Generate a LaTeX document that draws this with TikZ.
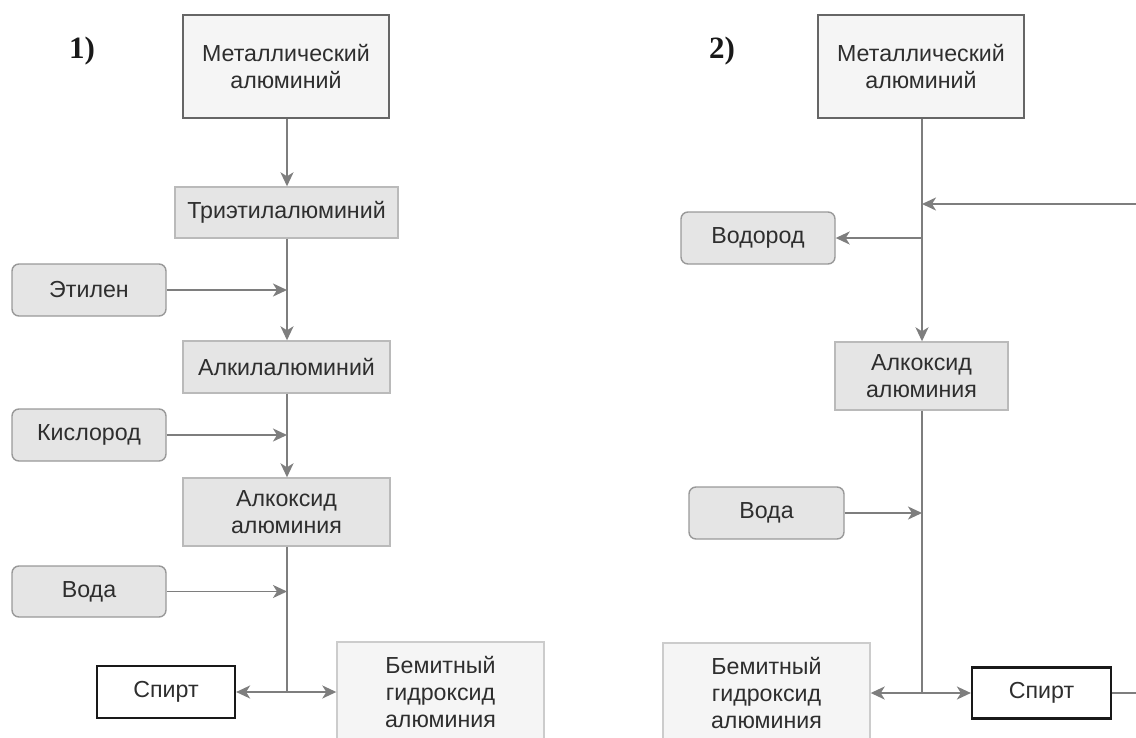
\documentclass[tikz,border=0pt]{standalone}
\usepackage{fontspec}
\setmainfont{Liberation Sans}
\newfontfamily\numfont{Liberation Serif}
\usetikzlibrary{arrows.meta}
\definecolor{txt}{HTML}{2E2E2E}
\definecolor{wire}{HTML}{7E7E7E}
\begin{document}
\begin{tikzpicture}[x=1pt,y=-1pt,
  every node/.style={font=\fontsize{23.2}{27}\selectfont, text=txt, align=center, inner sep=0pt},
  base/.style={rectangle, line width=1.4pt},
  feedbox/.style={base, fill=white!96!black, draw=black!60, line width=1.8pt},
  midbox/.style={base, fill=black!10, draw=black!27},
  inbox/.style={base, rounded corners=7pt, fill=black!10, draw=black!40},
  prodbox/.style={base, fill=white!96!black, draw=black!20},
  alcbox/.style={base, fill=white, draw=black!90, line width=2.2pt},
  flow/.style={draw=wire, line width=1.9pt},
  >={Stealth[length=14pt,width=13pt,inset=4pt]},
  numlbl/.style={font=\numfont\bfseries\fontsize{31}{33}\selectfont, text=black!90}]
\path[use as bounding box] (0,0) rectangle (1136,737);
\clip (0,0) rectangle (1136,737);

% ---------- scheme 1 ----------
\node[numlbl] (n1) at (82,51) {1)};
\node[feedbox, minimum width=206pt, minimum height=103pt] (m1) at (286,66.5) {Металлический\\алюминий};
\node[midbox, minimum width=223pt, minimum height=51pt] (t1) at (286.5,212.5) {Триэтилалюминий};
\node[inbox, minimum width=154pt, minimum height=52pt] (e1) at (89,290) {Этилен};
\node[midbox, minimum width=207pt, minimum height=52pt] (a1) at (286.5,367) {Алкилалюминий};
\node[inbox, minimum width=154pt, minimum height=52pt] (k1) at (89,435) {Кислород};
\node[midbox, minimum width=207pt, minimum height=68pt] (x1) at (286.5,512) {Алкоксид\\алюминия};
\node[inbox, minimum width=154pt, minimum height=51pt] (v1) at (89,591.5) {Вода};
\node[alcbox, minimum width=138pt, minimum height=52pt] (s1) at (166,692) {Спирт};
\node[prodbox, minimum width=207pt, minimum height=100pt] (b1) at (440.5,692) {Бемитный\\гидроксид\\алюминия};

\coordinate (je1) at (287,290);
\coordinate (jk1) at (287,435);
\coordinate (jv1) at (287,591.5);
\coordinate (jo1) at (287,692);

\draw[flow,->] (m1.south -| jo1) -- (t1.north -| jo1);
\draw[flow,->] (t1.south -| jo1) -- (a1.north -| jo1);
\draw[flow,->] (a1.south -| jo1) -- (x1.north -| jo1);
\draw[flow] (x1.south -| jo1) -- (jo1);
\draw[flow,->] (e1.east) -- (je1);
\draw[flow,->] (k1.east) -- (jk1);
\draw[flow,->] (v1.east) -- (jv1);
\draw[flow,->] (jo1) -- (s1.east |- jo1);
\draw[flow,->] (jo1) -- (b1.west |- jo1);

% ---------- scheme 2 ----------
\node[numlbl] (n2) at (722,51) {2)};
\node[feedbox, minimum width=206pt, minimum height=103pt] (m2) at (921,66.5) {Металлический\\алюминий};
\node[inbox, minimum width=154pt, minimum height=52pt] (h2) at (758,238) {Водород};
\node[midbox, minimum width=173pt, minimum height=68pt] (x2) at (921.5,376) {Алкоксид\\алюминия};
\node[inbox, minimum width=155pt, minimum height=52pt] (v2) at (766.5,513) {Вода};
\node[prodbox, minimum width=207pt, minimum height=100pt] (b2) at (766.5,693) {Бемитный\\гидроксид\\алюминия};
\node[alcbox, minimum width=139pt, minimum height=51pt] (s2) at (1041.5,693) {Спирт};

\coordinate (jr2) at (922,204);
\coordinate (jh2) at (922,238);
\coordinate (jv2) at (922,513);
\coordinate (jo2) at (922,693);
\coordinate (rc1) at (1136.6,693);
\coordinate (rc2) at (1136.6,204);

\draw[flow,->] (m2.south -| jo2) -- (x2.north -| jo2);
\draw[flow,->] (jh2) -- (h2.east);
\draw[flow] (x2.south -| jo2) -- (jo2);
\draw[flow,->] (v2.east) -- (jv2);
\draw[flow,->] (jo2) -- (b2.east |- jo2);
\draw[flow,->] (jo2) -- (s2.west |- jo2);
% recycle of the alcohol back to the reactor, running along the right edge
\draw[flow,->] (s2.east |- rc1) -- (rc1) -- (rc2) -- (jr2);
\end{tikzpicture}
\end{document}
